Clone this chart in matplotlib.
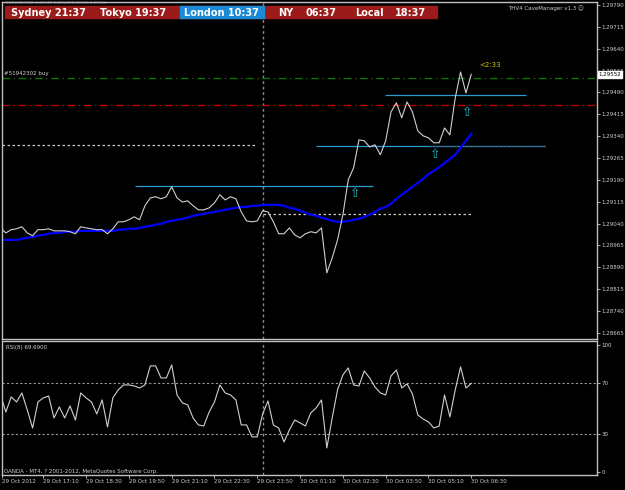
import matplotlib.pyplot as plt
from matplotlib.patches import Rectangle

# ====== DATA (EURUSD M10, 29 Oct 15:50 -> 30 Oct 06:30) ======
close = [1.29025, 1.29008, 1.29019, 1.29022, 1.29029, 1.29008, 1.28998, 1.29019, 1.29019, 1.29022,
         1.29015, 1.29015, 1.29015, 1.29012, 1.29005, 1.29029, 1.29025, 1.29022, 1.29019, 1.29019,
         1.29005, 1.29022, 1.29046, 1.29046, 1.29053, 1.29063, 1.29053, 1.29101, 1.29128, 1.29132,
         1.29125, 1.29132, 1.29166, 1.29128, 1.29114, 1.29118, 1.29101, 1.29087, 1.29087, 1.29094,
         1.29111, 1.29139, 1.29121, 1.29132, 1.29125, 1.29080, 1.29049, 1.29046, 1.29049, 1.29084,
         1.29080, 1.29046, 1.29005, 1.29005, 1.29025, 1.29001, 1.28991, 1.29005, 1.29012, 1.29008,
         1.29025, 1.28871, 1.28922, 1.28984, 1.29070, 1.29190, 1.29231, 1.29327, 1.29324, 1.29303,
         1.29310, 1.29276, 1.29324, 1.29423, 1.29454, 1.29403, 1.29457, 1.29423, 1.29358, 1.29341,
         1.29334, 1.29317, 1.29317, 1.29368, 1.29344, 1.29471, 1.29560, 1.29488, 1.29552]

ma = [1.28984, 1.28984, 1.28984, 1.28984, 1.28988, 1.28991, 1.28994, 1.28998, 1.29001, 1.29005,
      1.29008, 1.29008, 1.29012, 1.29012, 1.29012, 1.29015, 1.29015, 1.29015, 1.29015, 1.29015,
      1.29015, 1.29015, 1.29019, 1.29019, 1.29022, 1.29022, 1.29025, 1.29029, 1.29032, 1.29036,
      1.29039, 1.29046, 1.29049, 1.29053, 1.29056, 1.29060, 1.29067, 1.29070, 1.29073, 1.29077,
      1.29080, 1.29084, 1.29087, 1.29091, 1.29094, 1.29097, 1.29097, 1.29101, 1.29101, 1.29104,
      1.29104, 1.29104, 1.29104, 1.29101, 1.29094, 1.29091, 1.29084, 1.29077, 1.29070, 1.29067,
      1.29060, 1.29056, 1.29049, 1.29046, 1.29046, 1.29049, 1.29053, 1.29056, 1.29063, 1.29070,
      1.29080, 1.29091, 1.29097, 1.29108, 1.29125, 1.29139, 1.29152, 1.29166, 1.29180, 1.29193,
      1.29210, 1.29221, 1.29234, 1.29248, 1.29262, 1.29276, 1.29300, 1.29324, 1.29348]

rsi = [60.6, 47.2, 59.1, 55.1, 62.2, 48.8, 34.6, 55.1, 58.3, 59.8,
       42.5, 51.2, 42.5, 52.0, 40.9, 62.2, 58.3, 55.1, 45.7, 56.7,
       35.4, 58.3, 64.6, 68.5, 68.5, 67.7, 66.1, 68.5, 83.5, 83.5,
       74.0, 74.0, 84.3, 60.6, 54.3, 52.8, 42.5, 37.0, 36.2, 47.2,
       55.1, 68.5, 62.2, 60.6, 56.7, 37.0, 37.0, 27.6, 27.6, 45.7,
       55.9, 37.0, 34.6, 23.6, 33.1, 40.9, 38.6, 36.2, 46.5, 50.4,
       56.7, 18.9, 42.5, 64.6, 76.4, 81.9, 68.5, 67.7, 79.5, 74.0,
       66.9, 62.2, 60.6, 75.6, 80.3, 66.1, 69.3, 61.4, 44.9, 41.7,
       39.4, 34.6, 36.2, 60.6, 43.3, 64.6, 82.7, 66.1, 69.69]

bars = list(range(len(close)))

time_ticks = [0.3, 8, 16, 24, 32, 40, 48, 56, 64, 72, 80, 88]
time_labels = ["29 Oct 2012", "29 Oct 17:10", "29 Oct 18:30", "29 Oct 19:50", "29 Oct 21:10",
               "29 Oct 22:30", "29 Oct 23:50", "30 Oct 01:10", "30 Oct 02:30", "30 Oct 03:50",
               "30 Oct 05:10", "30 Oct 06:30"]
price_ticks = [1.28665, 1.28740, 1.28815, 1.28890, 1.28965, 1.29040, 1.29115, 1.29190,
               1.29265, 1.29340, 1.29415, 1.29490, 1.29565, 1.29640, 1.29715, 1.29790]
rsi_ticks = [0, 30, 70, 100]
rsi_levels = [30, 70]

order_price = 1.29540   # green (order)
red_level = 1.29447
white_lvl_left = 1.29310
white_lvl_right = 1.29073
cyan_levels = [(25.1, 69.6, 1.29169), (59.0, 101.8, 1.29306), (71.9, 98.2, 1.29481)]
arrows = [(66.3, 1.29142), (81.2, 1.29276), (87.2, 1.29420)]
sep_bar = 49

sessions = [("Sydney 21:37", 11), ("Tokyo 19:37", 100), ("London 10:37", 184),
            ("NY", 278), ("06:37", 305), ("Local", 355), ("18:37", 395)]

FG = '#d0d0d0'
SPINE = '#c0c0c0'

fig = plt.figure(figsize=(6.25, 4.9), dpi=100, facecolor='black')
ax = fig.add_axes([2/625, 151/490, 595/625, 337/490], facecolor='black')
ax_r = fig.add_axes([2/625, 15/490, 595/625, 134/490], facecolor='black')

for a in (ax, ax_r):
    a.set_xlim(0.28, 111.5)
    for s in a.spines.values():
        s.set_color(SPINE)
        s.set_linewidth(1)
    a.yaxis.tick_right()
    a.tick_params(axis='y', colors=FG, labelsize=4, length=2, width=0.6, pad=1)
    a.axvline(sep_bar, color='#8a8a8a', lw=1, ls=(0, (2, 2)))

# ====== main price panel ======
ax.set_ylim(1.28644, 1.29800)
ax.set_yticks(price_ticks)
ax.set_yticklabels([f"{p:.5f}" for p in price_ticks])
ax.set_xticks([])

ax.axhline(order_price, color='#008000', lw=0.9, ls=(0, (6, 3, 1, 3)))
ax.axhline(red_level, color='#d00000', lw=0.9, ls=(0, (6, 3, 1, 3)))
ax.hlines(white_lvl_left, 0.28, 47.6, color='#c8c8c8', lw=0.9, ls=(0, (2, 2)))
ax.hlines(white_lvl_right, 49.1, 88.1, color='#c8c8c8', lw=0.9, ls=(0, (2, 2)))
for x0, x1, lvl in cyan_levels:
    ax.hlines(lvl, x0, x1, color='#2e9bd0', lw=0.9)
ax.hlines(cyan_levels[1][2], 80.3, 101.8, color='#3a5a70', lw=1.0, ls=(0, (2, 1)))

ax.plot(bars, ma, color='#0000ff', lw=1.6)
ax.plot(bars, close, color=FG, lw=0.8)

for xb, yp in arrows:
    ax.text(xb, yp, "\u21e7", color='#22c0c8', fontsize=9, ha='center', va='center')

ax.text(89.5, 1.29584, "<2:33", color='#c8c800', fontsize=5, va='center')
ax.text(0.7, order_price + 0.00010, "#51942302 buy", color=FG, fontsize=4)
ax.text(1.003, close[-1], f"{close[-1]:.5f}", transform=ax.get_yaxis_transform(),
        fontsize=4, color='black', va='center', ha='left', zorder=5,
        bbox=dict(boxstyle='square,pad=0.15', fc='white', ec='white'))

# ====== RSI panel ======
ax_r.set_ylim(-2.4, 103.1)
ax_r.set_yticks(rsi_ticks)
for lv in rsi_levels:
    ax_r.axhline(lv, color='#9a9a9a', lw=0.8, ls=(0, (2, 2)))
ax_r.plot(bars, rsi, color=FG, lw=0.8)
ax_r.set_xticks(time_ticks)
ax_r.set_xticklabels(time_labels)
ax_r.tick_params(axis='x', colors=FG, labelsize=4, length=2, width=0.6, pad=1)
for lab in ax_r.get_xticklabels():
    lab.set_ha('left')
ax_r.text(0.006, 0.97, f"RSI(8) {rsi[-1]:.4f}", transform=ax_r.transAxes,
          color=FG, fontsize=4, va='top')
ax_r.text(0.004, 0.01, "OANDA - MT4, ? 2001-2012, MetaQuotes Software Corp.",
          transform=ax_r.transAxes, color=FG, fontsize=4, va='bottom')

# ====== header overlay (pixel coords) ======
ov = fig.add_axes([0, 0, 1, 1])
ov.set_xlim(0, 625)
ov.set_ylim(490, 0)
ov.axis('off')
ov.patch.set_alpha(0)
ov.text(6, 3.5, "EURUSD,M10  1.29547 1.29560 1.29535 1.29552", color='#909090',
        fontsize=3, va='center')
ov.add_patch(Rectangle((5, 6), 432, 12, color='#9b1b1b'))
ov.add_patch(Rectangle((180, 6), 84, 12, color='#1b8ad6'))
for txt, x in sessions:
    ov.text(x, 12.5, txt, color='white', fontsize=7, fontweight='bold', va='center')
ov.text(584, 8, "THV4 CaveManager v1.3 \u263a", color=FG, fontsize=4, va='center', ha='right')

fig.savefig("out.png", dpi=100, facecolor='black')
